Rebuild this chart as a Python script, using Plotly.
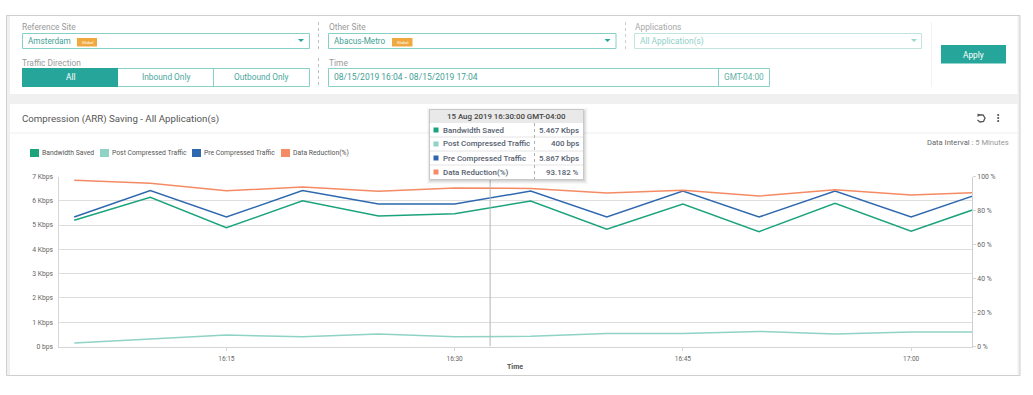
import plotly.graph_objects as go

W, H = 1033, 395
FONT = "Roboto"
TEAL = "#26a69a"
TEAL_BORDER = "#86d0c6"

times = ["2019-08-15 %s:00" % t for t in
         ["16:05", "16:10", "16:15", "16:20", "16:25", "16:30", "16:35",
          "16:40", "16:45", "16:50", "16:55", "17:00", "17:05"]]
bandwidth_saved = [5.20, 6.14, 4.89, 6.00, 5.37, 5.467, 5.99, 4.83, 5.87, 4.73, 5.90, 4.75, 5.83]
post_compressed = [0.144, 0.30, 0.47, 0.40, 0.51, 0.40, 0.42, 0.54, 0.54, 0.62, 0.51, 0.60, 0.60]
pre_compressed = [5.33, 6.42, 5.33, 6.42, 5.867, 5.867, 6.40, 5.33, 6.40, 5.33, 6.40, 5.33, 6.40]
data_reduction = [97.8, 96.0, 91.6, 93.8, 91.3, 93.182, 93.0, 90.3, 91.9, 88.5, 92.2, 89.1, 90.8]

series_names = ["Bandwidth Saved", "Post Compressed Traffic", "Pre Compressed Traffic", "Data Reduction(%)"]
series_colors = ["#1ba37c", "#8fd3c6", "#2f68ae", "#f58b64"]

left_ticks = [0, 1, 2, 3, 4, 5, 6, 7]
left_labels = ["0 bps", "1 Kbps", "2 Kbps", "3 Kbps", "4 Kbps", "5 Kbps", "6 Kbps", "7 Kbps"]
right_ticks = [0, 20, 40, 60, 80, 100]
right_labels = ["0 %", "20 %", "40 %", "60 %", "80 %", "100 %"]
x_ticks = ["2019-08-15 16:15:00", "2019-08-15 16:30:00", "2019-08-15 16:45:00", "2019-08-15 17:00:00"]
x_labels = ["16:15", "16:30", "16:45", "17:00"]
x_range = ["2019-08-15 16:03:58", "2019-08-15 17:04:00"]
crosshair_time = "2019-08-15 16:32:20"

tooltip_title = "15 Aug 2019 16:30:00 GMT-04:00"
tooltip_values = ["5.467 Kbps", "400 bps", "5.867 Kbps", "93.182 %"]


def px(x):
    return x / W


def py(y):
    return 1 - y / H


shapes = []
annotations = []


def rect(x0, y0, x1, y1, fill="rgba(0,0,0,0)", line=None, lw=1, layer="above"):
    shapes.append(dict(type="rect", xref="paper", yref="paper",
                       x0=px(x0), x1=px(x1), y0=py(y0), y1=py(y1),
                       fillcolor=fill, layer=layer,
                       line=dict(color=line or "rgba(0,0,0,0)", width=lw if line else 0)))


def hline(x0, y0, x1, y1, color, lw=1, dash="solid", layer="above"):
    shapes.append(dict(type="line", xref="paper", yref="paper",
                       x0=px(x0), x1=px(x1), y0=py(y0), y1=py(y1),
                       layer=layer, line=dict(color=color, width=lw, dash=dash)))


def text(x, y, s, size=9, color="#777", anchor="left", weight="normal"):
    annotations.append(dict(xref="paper", yref="paper", x=px(x), y=py(y), text=s,
                            showarrow=False, xanchor=anchor, yanchor="middle",
                            borderpad=0, borderwidth=0,
                            font=dict(family=FONT, size=size, color=color, weight=weight)))


def tri(cx, cy, color):
    shapes.append(dict(type="path", xref="paper", yref="paper", layer="above",
                       path="M %f %f L %f %f L %f %f Z" % (px(cx - 3), py(cy - 1.5), px(cx + 3), py(cy - 1.5), px(cx), py(cy + 1.5)),
                       fillcolor=color, line=dict(width=0)))


# page frame and panels
rect(6.5, 15.5, 1020, 375.5, fill="#f0f0f0", line="#cfcfcf", layer="below")
rect(10, 16, 1017.5, 94, fill="#ffffff", layer="below")
rect(10, 104, 1017.5, 375, fill="#ffffff", layer="below")
hline(10, 133, 1017.5, 133, "#eeeeee", layer="below")

# filter bar
text(22, 27, "Reference Site", 8.4, "#9a9a9a")
rect(22.5, 33.5, 309.5, 48.5, fill="#fff", line=TEAL_BORDER)
text(28, 41, "Amsterdam", 8.2, "#3f9f94")
rect(77, 38, 97, 46.5, fill="#f0a93f")
text(87, 42.3, "Global", 4, "#fff", "center")
tri(301, 40.5, TEAL)

hline(318.5, 22, 318.5, 50, "#bdbdbd", dash="dot")
hline(318.5, 58, 318.5, 87, "#bdbdbd", dash="dot")

text(328.5, 27, "Other Site", 8.4, "#9a9a9a")
rect(328.5, 33.5, 616, 48.5, fill="#fff", line=TEAL_BORDER)
text(334, 41, "Abacus-Metro", 8.2, "#3f9f94")
rect(392, 38, 412.5, 46.5, fill="#f0a93f")
text(402, 42.3, "Global", 4, "#fff", "center")
tri(607.5, 40.5, TEAL)

hline(625.5, 22, 625.5, 50, "#cccccc", dash="dot")
text(634.5, 27, "Applications", 8.4, "#a8a8a8")
rect(634.5, 33.5, 921.5, 48.5, fill="#fff", line="#c2e5e0")
text(640, 41, "All Application(s)", 8.4, "#8fd0c7")
tri(914, 40.5, "#9fd8d0")

hline(931.5, 22, 931.5, 87, "#f2f2f2")
rect(941, 45, 1006, 63.5, fill=TEAL)
text(973.5, 54.5, "Apply", 8.3, "#ffffff", "center")

text(22, 63, "Traffic Direction", 8.4, "#9a9a9a")
rect(22.5, 68.5, 309.5, 86.5, fill="#fff", line=TEAL_BORDER)
rect(22, 68, 118, 87, fill=TEAL)
hline(213.5, 68.5, 213.5, 86.5, TEAL_BORDER)
text(70, 77.5, "All", 8.3, "#ffffff", "center")
text(165.5, 77.5, "Inbound Only", 8.3, "#4aa89d", "center")
text(261, 77.5, "Outbound Only", 8.3, "#4aa89d", "center")

text(328.5, 63, "Time", 8.4, "#9a9a9a")
rect(328.5, 68.5, 769.5, 86.5, fill="#fff", line=TEAL_BORDER)
hline(718.5, 68.5, 718.5, 86.5, TEAL_BORDER)
text(334, 77.5, "08/15/2019 16:04 - 08/15/2019 17:04", 8.5, "#3f9f94")
text(743.5, 77.5, "GMT-04:00", 8.3, "#5fb3a9", "center")

# chart panel header
text(22, 118.5, "Compression (ARR) Saving - All Application(s)", 9.7, "#555555")
text(1009, 143, "Data Interval : <span style='color:#999'>5 Minutes</span>", 7.6, "#666666", "right")

# reload icon and kebab menu
shapes.append(dict(type="path", xref="paper", yref="paper", layer="above",
                   path="M %f %f L %f %f L %f %f L %f %f L %f %f L %f %f" % (
                       px(978), py(115), px(983), py(115), px(985), py(118), px(983.5), py(121.5),
                       px(980), py(122), px(977.5), py(120)),
                   line=dict(color="#555555", width=1.3)))
shapes.append(dict(type="path", xref="paper", yref="paper", layer="above",
                   path="M %f %f L %f %f L %f %f Z" % (px(977.5), py(113.5), px(980.5), py(115), px(977.5), py(117)),
                   fillcolor="#555555", line=dict(width=0)))
for dot_y in (115, 118, 121):
    rect(997.3, dot_y - 0.9, 999.1, dot_y + 0.9, fill="#555555")

# legend row
legend_swatch_x = [30, 100, 192, 281]
for sx, name, color in zip(legend_swatch_x, series_names, series_colors):
    rect(sx, 149, sx + 9, 157, fill=color)
    text(sx + 12, 153, name, 6.8, "#555555")

# axis title
text(514.5, 367, "Time", 7, "#555555", "center", "bold")

# crosshair, drawn in data space
shapes.append(dict(type="line", xref="x", yref="y", x0=crosshair_time, x1=crosshair_time,
                   y0=0, y1=7, layer="above", line=dict(color="#b5b5b5", width=1)))

# tooltip
for off, alpha in ((4, 0.03), (3, 0.04), (2, 0.05), (1, 0.06)):
    rect(430 - off + 1, 110 - off + 2, 583.5 + off, 179 + off + 1, fill="rgba(0,0,0,%s)" % alpha)
rect(429.5, 109.5, 583.5, 179.5, fill="#ffffff", line="#c8c8c8")
rect(430, 110, 583, 123, fill="#e9e9e9")
text(506.5, 116.5, tooltip_title, 7.9, "#444444", "center", 500)
row_y = [130, 144, 158, 172]
for ry, name, color, value in zip(row_y, series_names, series_colors, tooltip_values):
    rect(433.5, ry - 2.5, 438.5, ry + 2.5, fill=color)
    text(442.5, ry, name, 7.9, "#55606e", "left", 500)
    text(579, ry, value, 7.9, "#55606e", "right", 500)
    if ry < 172:
        hline(430, ry + 7, 583, ry + 7, "#e4e4e4")
hline(534.5, 123, 534.5, 179, "#b0b0b0", dash="dot")

fig = go.Figure()
for name, color, values, axis in [
    (series_names[1], series_colors[1], post_compressed, "y"),
    (series_names[0], series_colors[0], bandwidth_saved, "y"),
    (series_names[2], series_colors[2], pre_compressed, "y"),
    (series_names[3], series_colors[3], data_reduction, "y2"),
]:
    fig.add_trace(go.Scatter(x=times, y=values, name=name, mode="lines", yaxis=axis,
                             line=dict(color=color, width=1.5), hoverinfo="skip", showlegend=False))

tick_font = dict(family=FONT, size=6.8, color="#666666")
fig.update_layout(
    template="none",
    width=W, height=H, autosize=False,
    margin=dict(l=0, r=0, t=0, b=0, pad=0, autoexpand=False),
    paper_bgcolor="#ffffff", plot_bgcolor="rgba(0,0,0,0)",
    shapes=shapes, annotations=annotations, showlegend=False,
    hovermode=False,
    xaxis=dict(domain=[px(58.5), px(972)], type="date", range=x_range, automargin=False,
               tickmode="array", tickvals=x_ticks, ticktext=x_labels,
               ticks="outside", ticklen=3, tickcolor="#d5d5d5", tickwidth=1,
               ticklabelstandoff=3,
               showgrid=False, zeroline=False, showline=True, linecolor="#d5d5d5", linewidth=1,
               tickfont=dict(family=FONT, size=6.5, color="#666666")),
    yaxis=dict(domain=[py(346.5), py(176.5)], range=[0, 7], automargin=False,
               tickmode="array", tickvals=left_ticks, ticktext=left_labels,
               ticks="outside", ticklen=3, tickcolor="rgba(0,0,0,0)",
               gridcolor="#dedede", gridwidth=1, zeroline=False,
               showline=True, linecolor="#d5d5d5", linewidth=1, tickfont=tick_font),
    yaxis2=dict(domain=[py(346.5), py(176.5)], range=[0, 100], overlaying="y", side="right",
                anchor="x", automargin=False, tickmode="array", tickvals=right_ticks, ticktext=right_labels,
                ticks="outside", ticklen=3, tickcolor="#d5d5d5",
                showgrid=False, zeroline=False,
                showline=True, linecolor="#cfcfcf", linewidth=1, tickfont=tick_font),
)

fig.write_html("out.html", config=dict(displayModeBar=False),
               post_script="document.body.style.margin='0';")
